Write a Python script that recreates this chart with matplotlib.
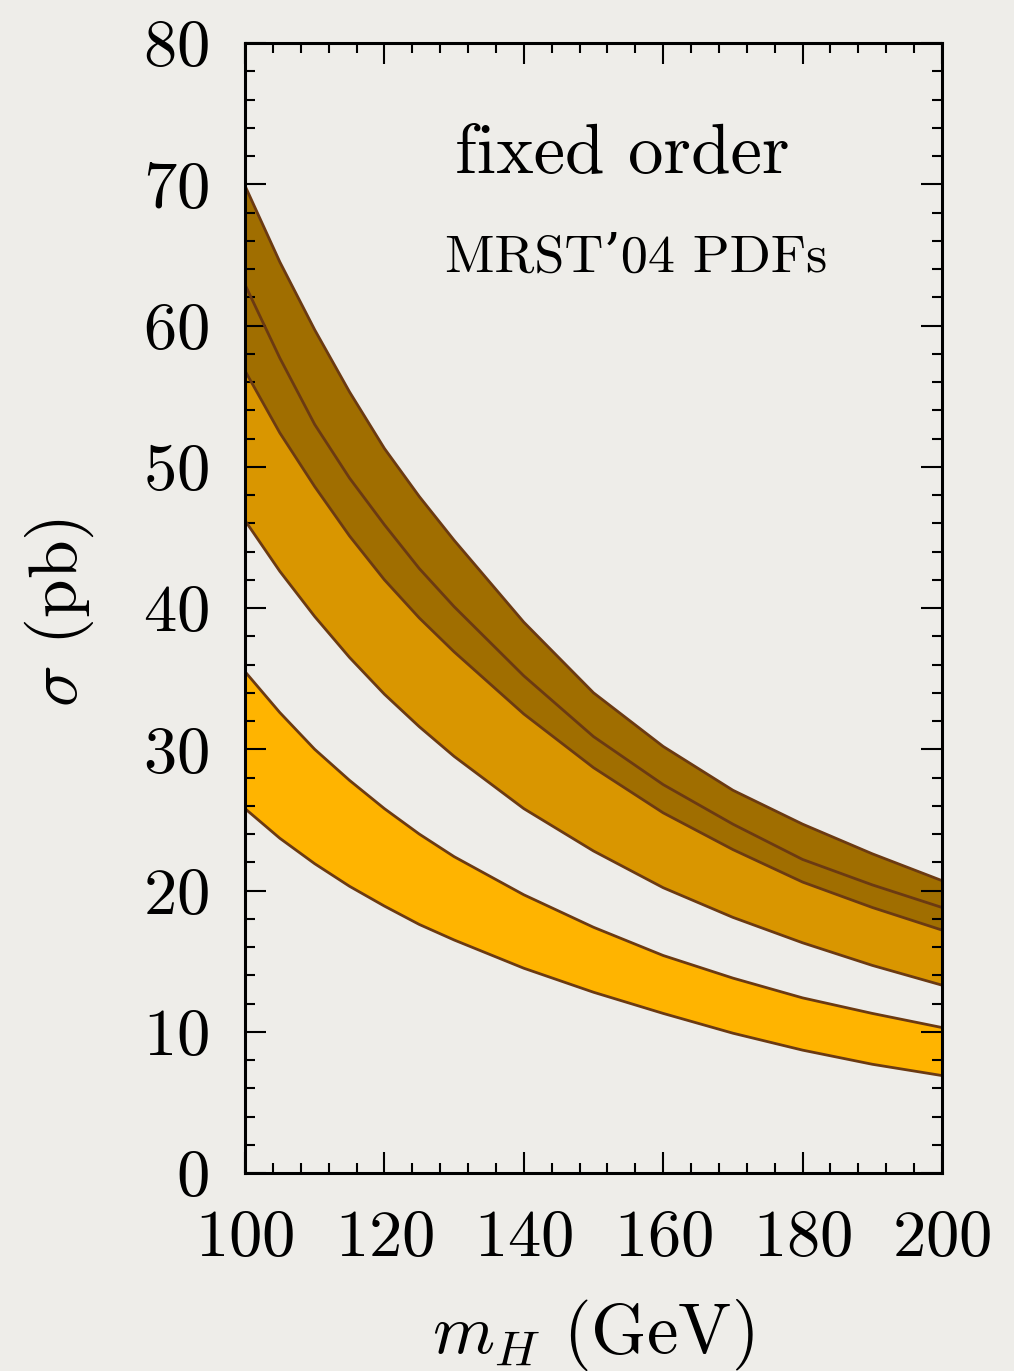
import numpy as np
import matplotlib
matplotlib.use("Agg")
import matplotlib.pyplot as plt
from matplotlib.ticker import MultipleLocator

plt.rcParams['font.family'] = ['cmr10', 'DejaVu Serif']
plt.rcParams['mathtext.fontset'] = 'cm'
plt.rcParams['axes.formatter.use_mathtext'] = True

# Higgs mass (GeV)
mH = [100, 105, 110, 115, 120, 125, 130, 140, 150, 160, 170, 180, 190, 200]

# LO band (pb)
lo_lo = [25.8, 23.7, 21.9, 20.3, 18.9, 17.6, 16.5, 14.5, 12.8, 11.3, 9.9, 8.7, 7.7, 6.9]
lo_hi = [35.5, 32.6, 30.0, 27.8, 25.8, 24.0, 22.4, 19.7, 17.4, 15.4, 13.8, 12.4, 11.3, 10.3]

# NLO band (pb)
nlo_lo = [46.2, 42.6, 39.4, 36.5, 33.9, 31.6, 29.5, 25.8, 22.8, 20.2, 18.1, 16.3, 14.7, 13.3]
nlo_hi = [62.9, 57.7, 53.0, 49.2, 45.9, 42.8, 40.1, 35.2, 30.9, 27.5, 24.7, 22.2, 20.4, 18.8]

# NNLO band (pb)
nnlo_lo = [56.8, 52.4, 48.6, 45.1, 42.0, 39.3, 36.9, 32.5, 28.7, 25.5, 22.9, 20.6, 18.8, 17.2]
nnlo_hi = [69.9, 64.5, 59.7, 55.3, 51.3, 47.9, 44.8, 39.0, 34.0, 30.2, 27.1, 24.7, 22.6, 20.7]

bg = '#eeede9'
edge = '#6b3a12'

fig = plt.figure(figsize=(10.14, 13.71), dpi=100, facecolor=bg)
ax = fig.add_axes([0.2416, 0.1444, 0.6874, 0.8242])
ax.set_facecolor(bg)

ax.fill_between(mH, lo_lo, lo_hi, color='#ffb400', lw=0)
ax.fill_between(mH, nlo_lo, nlo_hi, color='#d99600', lw=0)
ax.fill_between(mH, nnlo_lo, nnlo_hi, color='#a06e00', lw=0)
for y in [lo_lo, lo_hi, nlo_lo, nlo_hi, nnlo_lo, nnlo_hi]:
    ax.plot(mH, y, color=edge, lw=2.0, solid_joinstyle='round')

ax.set_xlim(100, 200)
ax.set_ylim(0, 80)
ax.xaxis.set_major_locator(MultipleLocator(20))
ax.xaxis.set_minor_locator(MultipleLocator(4))
ax.yaxis.set_major_locator(MultipleLocator(10))
ax.yaxis.set_minor_locator(MultipleLocator(2))
ax.tick_params(which='both', direction='in', top=True, right=True,
               width=1.5, color='black')
ax.tick_params(which='major', length=15, labelsize=48)
ax.tick_params(which='minor', length=7)
ax.tick_params(axis='y', pad=26)
ax.tick_params(axis='x', pad=26)
for s in ax.spines.values():
    s.set_linewidth(2.2)

ax.text(0.541, 0.901, 'fixed order', transform=ax.transAxes,
        ha='center', va='center', fontsize=51)
ax.text(0.561, 0.81, 'MRST\u201904 PDFs', transform=ax.transAxes,
        ha='center', va='center', fontsize=39)

fig.text(0.059, 0.553, r'$\sigma$ (pb)', rotation=90, ha='center',
         va='center', fontsize=50)
fig.text(0.585, 0.026, r'$m_H$ (GeV)', ha='center', va='center',
         fontsize=51)

fig.savefig('out.png', dpi=100, facecolor=bg)
